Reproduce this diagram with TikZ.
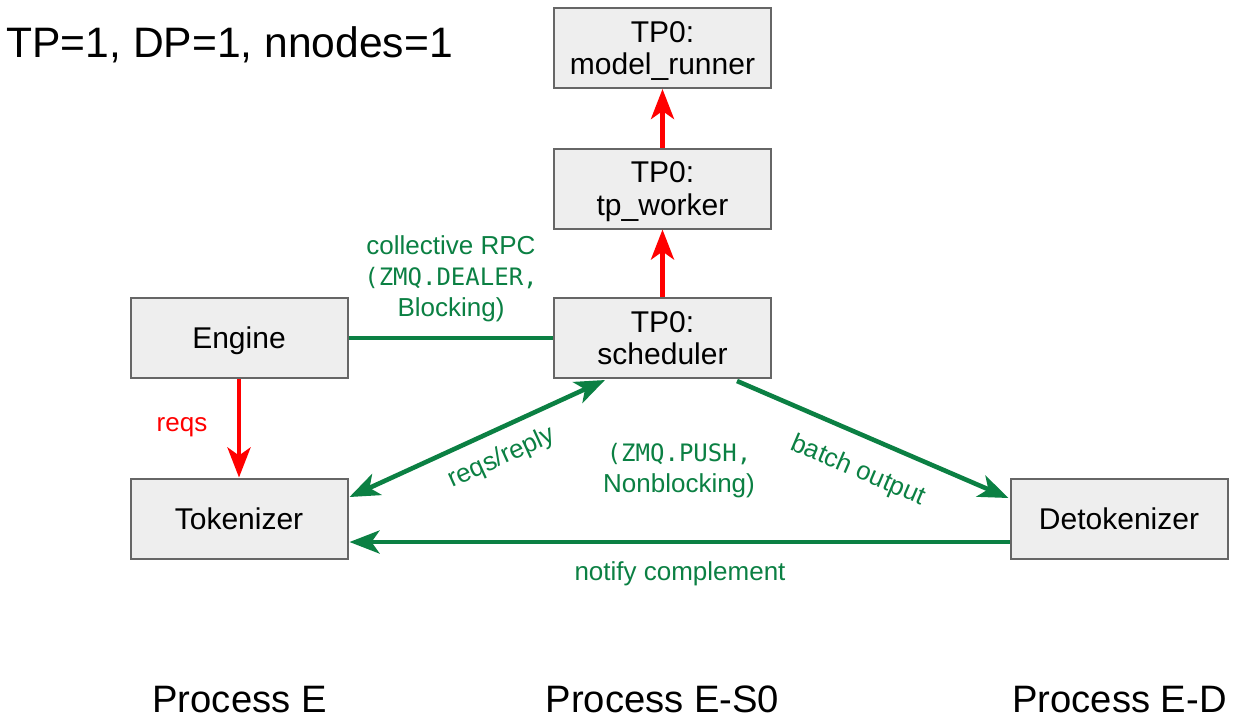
\documentclass[tikz,border=0pt]{standalone}
\usepackage{fontspec}
\setmainfont{Liberation Sans}
\setmonofont{DejaVu Sans Mono}
\usepackage{tikz}
\usetikzlibrary{positioning, arrows.meta, calc}
\usepackage{xcolor}
\definecolor{boxfill}{HTML}{EEEEEE}
\definecolor{boxline}{HTML}{666666}
\definecolor{rpcgreen}{HTML}{0B8043}

\begin{document}
\begin{tikzpicture}[x=0.5pt, y=-0.5pt,
  >={Stealth[length=15pt, width=11.5pt, inset=4pt]},
  box/.style={draw=boxline, fill=boxfill, line width=1pt, minimum width=108.5pt,
    minimum height=40pt, inner sep=0pt, text depth=0pt, align=center, font=\fontsize{15}{16.3}\selectfont},
  lbl/.style={text=rpcgreen, inner sep=0pt, align=center, font=\fontsize{13}{15.5}\selectfont},
  redline/.style={draw=red, line width=2.3pt},
  greenline/.style={draw=rpcgreen, line width=2.3pt},
  zmq/.style={font=\ttfamily\fontsize{12}{15.5}\selectfont}]
\useasboundingbox (0,0) rectangle (1236,720);

% Title
\node[anchor=base west, inner sep=0pt, font=\fontsize{21.3}{25}\selectfont] (title) at (6,57) {TP=1, DP=1, nnodes=1};

% Boxes
\node[box] (engine) at (239,338) {Engine};
\node[box] (tokenizer) at (239,518.5) {Tokenizer};
\node[box] (scheduler) at (662.5,338) {TP0:\\scheduler};
\node[box] (worker) at (662.5,188.5) {TP0:\\tp\_worker};
\node[box] (runner) at (662.5,48) {TP0:\\model\_runner};
\node[box] (detok) at (1119,519) {Detokenizer};

% Red arrows
\draw[redline, ->] (engine.south) -- (tokenizer.north);
\draw[redline, ->] (scheduler.north) -- (worker.south);
\draw[redline, ->] (worker.north) -- (runner.south);
\node[inner sep=0pt, text=red, font=\fontsize{13}{15.5}\selectfont] (reqs) at (182,427) {reqs};

% Green connections
\draw[greenline] (engine.east) -- (scheduler.west);
\draw[greenline, <->] ($(tokenizer.east)+(1,-21.5)$) -- ($(scheduler.south)+(-57.5,1)$);
\draw[greenline, ->] ($(scheduler.south)+(74.5,2)$) -- ($(detok.west)+(-1,-21)$);
\draw[greenline, ->] ($(detok.west)+(0,23)$) -- ($(tokenizer.east)+(1,23.5)$);

% Labels
\node[lbl] (rpc) at (451,279) {collective RPC\\{\ttfamily\fontsize{12}{15.5}\selectfont(ZMQ.DEALER,}\\Blocking)};
\node[lbl, rotate=24.5] (reply) at (502,458) {reqs/reply};
\node[lbl] (push) at (679,471) {{\ttfamily\fontsize{12}{15.5}\selectfont(ZMQ.PUSH,}\\Nonblocking)};
\node[lbl, rotate=-23.2] (batch) at (858,471) {batch output};
\node[lbl] (notify) at (680,574) {notify complement};

% Processes
\node[anchor=base, inner sep=0pt, font=\fontsize{19.1}{23}\selectfont] (procE) at (239.5,712) {Process E};
\node[anchor=base, inner sep=0pt, font=\fontsize{19.1}{23}\selectfont] (procS) at (662.5,712) {Process E-S0};
\node[anchor=base, inner sep=0pt, font=\fontsize{19.1}{23}\selectfont] (procD) at (1119.5,712) {Process E-D};
\end{tikzpicture}
\end{document}
